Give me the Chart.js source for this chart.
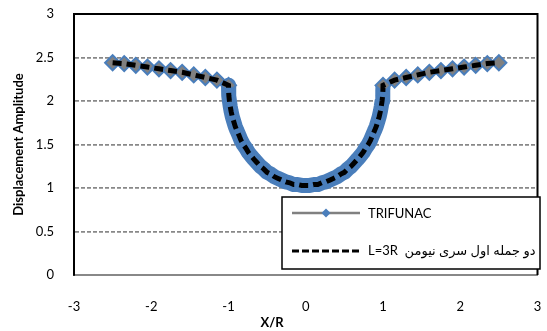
<!DOCTYPE html>
<html>
<head>
<meta charset="utf-8">
<script src="https://cdn.jsdelivr.net/npm/chart.js"></script>
<style>
  html, body { margin: 0; padding: 0; background: #fff; }
</style>
</head>
<body>
<canvas id="myChart" width="547" height="331"></canvas>
<script>
var xTicks = [-3, -2, -1, 0, 1, 2, 3];
var yTicks = [0, 0.5, 1, 1.5, 2, 2.5, 3];
var seriesNames = ["TRIFUNAC", "L=3R  دو جمله اول سری نیومن"];

// X/R positions
var xValues = [
  -2.5, -2.35, -2.2, -2.05, -1.9, -1.75, -1.6, -1.45, -1.3, -1.15,
  -1, -0.999, -0.995, -0.988, -0.978, -0.966, -0.951, -0.934, -0.914, -0.891,
  -0.866, -0.839, -0.809, -0.777, -0.743, -0.707, -0.669, -0.629, -0.588, -0.545,
  -0.5, -0.454, -0.407, -0.358, -0.309, -0.259, -0.208, -0.156, -0.105, -0.052,
  0,
  0.052, 0.105, 0.156, 0.208, 0.259, 0.309, 0.358, 0.407, 0.454, 0.5,
  0.545, 0.588, 0.629, 0.669, 0.707, 0.743, 0.777, 0.809, 0.839, 0.866,
  0.891, 0.914, 0.934, 0.951, 0.966, 0.978, 0.988, 0.995, 0.999, 1,
  1.15, 1.3, 1.45, 1.6, 1.75, 1.9, 2.05, 2.2, 2.35, 2.5
];

var trifunacValues = [
  2.44, 2.43, 2.41, 2.39, 2.37, 2.35, 2.33, 2.30, 2.27, 2.24,
  2.18, 2.12, 2.06, 2.00, 1.94, 1.88, 1.82, 1.77, 1.71, 1.66,
  1.61, 1.55, 1.50, 1.46, 1.41, 1.37, 1.33, 1.29, 1.25, 1.22,
  1.18, 1.16, 1.13, 1.11, 1.09, 1.07, 1.06, 1.04, 1.04, 1.03,
  1.03,
  1.03, 1.04, 1.04, 1.06, 1.07, 1.09, 1.11, 1.13, 1.16, 1.18,
  1.22, 1.25, 1.29, 1.33, 1.37, 1.41, 1.46, 1.50, 1.55, 1.61,
  1.66, 1.71, 1.77, 1.82, 1.88, 1.94, 2.00, 2.06, 2.12, 2.18,
  2.24, 2.27, 2.30, 2.33, 2.35, 2.37, 2.39, 2.41, 2.43, 2.44
];

var neumannValues = [
  2.44, 2.43, 2.41, 2.39, 2.37, 2.35, 2.33, 2.30, 2.27, 2.24,
  2.18, 2.12, 2.06, 2.00, 1.94, 1.88, 1.82, 1.77, 1.71, 1.66,
  1.61, 1.55, 1.50, 1.46, 1.41, 1.37, 1.33, 1.29, 1.25, 1.22,
  1.18, 1.16, 1.13, 1.11, 1.09, 1.07, 1.06, 1.04, 1.04, 1.03,
  1.03,
  1.03, 1.04, 1.04, 1.06, 1.07, 1.09, 1.11, 1.13, 1.16, 1.18,
  1.22, 1.25, 1.29, 1.33, 1.37, 1.41, 1.46, 1.50, 1.55, 1.61,
  1.66, 1.71, 1.77, 1.82, 1.88, 1.94, 2.00, 2.06, 2.12, 2.18,
  2.24, 2.27, 2.30, 2.33, 2.35, 2.37, 2.39, 2.41, 2.43, 2.44
];

var blue = "#4a7ebb";
var grey = "#808080";
var gridGrey = "#888888";

Chart.defaults.font.family = "Lato, 'DejaVu Sans', sans-serif";
Chart.defaults.font.size = 13;
Chart.defaults.color = "#000";

function toPoints(xs, ys) {
  return xs.map((x, i) => ({ x: x, y: ys[i] }));
}

function inCanyon(c) {
  return c.p0.parsed.x >= -1 && c.p1.parsed.x <= 1;
}

// legend box, frame and x title, drawn like the excel sheet
const extras = {
  id: "extras",
  afterDraw(chart) {
    const ctx = chart.ctx;
    const area = chart.chartArea;
    ctx.save();

    // plot frame top + right
    ctx.strokeStyle = "#000";
    ctx.lineWidth = 2;
    ctx.beginPath();
    ctx.moveTo(area.left, area.top);
    ctx.lineTo(area.right, area.top);
    ctx.lineTo(area.right, area.bottom);
    ctx.stroke();

    // legend
    ctx.fillStyle = "#fff";
    ctx.fillRect(282, 197, 258, 72);
    ctx.lineWidth = 1.5;
    ctx.strokeStyle = "#000";
    ctx.strokeRect(282, 197, 258, 72);

    ctx.strokeStyle = grey;
    ctx.lineWidth = 2.5;
    ctx.beginPath();
    ctx.moveTo(292, 213);
    ctx.lineTo(360, 213);
    ctx.stroke();
    ctx.fillStyle = blue;
    ctx.beginPath();
    ctx.moveTo(326, 208.5);
    ctx.lineTo(330.5, 213);
    ctx.lineTo(326, 217.5);
    ctx.lineTo(321.5, 213);
    ctx.closePath();
    ctx.fill();

    ctx.strokeStyle = "#000";
    ctx.lineWidth = 3;
    ctx.setLineDash([7, 3]);
    ctx.beginPath();
    ctx.moveTo(292, 251);
    ctx.lineTo(361, 251);
    ctx.stroke();
    ctx.setLineDash([]);

    ctx.fillStyle = "#000";
    ctx.font = "13px Lato, 'DejaVu Sans', sans-serif";
    ctx.textBaseline = "middle";
    ctx.textAlign = "left";
    ctx.fillText(seriesNames[0], 368, 214);
    ctx.fillText(seriesNames[1], 368, 251);

    // x title
    ctx.font = "bold 13px Lato, 'DejaVu Sans', sans-serif";
    ctx.textAlign = "center";
    ctx.fillText("X/R", 272, 323);
    ctx.restore();
  }
};

new Chart("myChart", {
  type: "line",
  data: {
    datasets: [{
      label: seriesNames[0],
      data: toPoints(xValues, trifunacValues),
      borderColor: grey,
      borderWidth: 2.5,
      borderJoinStyle: "round",
      // inside the canyon the markers are so dense they read as one thick blue band
      segment: {
        borderColor: (c) => inCanyon(c) ? blue : grey,
        borderWidth: (c) => inCanyon(c) ? 15 : 2.5
      },
      pointStyle: "rectRot",
      pointRadius: (c) => (c.raw && Math.abs(c.raw.x) < 1 ? 5.5 : 7.5),
      pointBorderWidth: 2,
      pointBorderColor: blue,
      pointBackgroundColor: (c) => (c.raw && Math.abs(c.raw.x) < 1 ? blue : grey),
      tension: 0,
      order: 2
    }, {
      label: seriesNames[1],
      data: toPoints(xValues, neumannValues),
      borderColor: "#000",
      borderWidth: 5,
      borderDash: [9, 5],
      pointRadius: 0,
      tension: 0,
      order: 1
    }]
  },
  options: {
    responsive: false,
    animation: false,
    layout: { padding: { top: 14, right: 4, left: 0, bottom: 0 } },
    plugins: {
      legend: { display: false },
      tooltip: { enabled: false }
    },
    scales: {
      x: {
        type: "linear",
        min: xTicks[0],
        max: xTicks[xTicks.length - 1],
        afterBuildTicks: (scale) => { scale.ticks = xTicks.map(v => ({ value: v })); },
        afterFit: (scale) => { scale.height = 56; },
        grid: { display: false, drawTicks: true, tickLength: 24 },
        border: { display: true, color: gridGrey, width: 2 },
        ticks: { padding: 0, color: "#000", maxRotation: 0, callback: (v) => String(v) }
      },
      y: {
        type: "linear",
        min: yTicks[0],
        max: yTicks[yTicks.length - 1],
        afterBuildTicks: (scale) => { scale.ticks = yTicks.map(v => ({ value: v })); },
        afterFit: (scale) => { scale.width = 74; },
        grid: {
          drawTicks: true,
          tickLength: 20,
          tickColor: "rgba(0,0,0,0)",
          lineWidth: 1.75,
          color: (c) => (c.tick && (c.tick.value === 0 || c.tick.value === 3)) ? "rgba(0,0,0,0)" : gridGrey
        },
        border: { display: true, color: "#000", width: 2, dash: [4, 2] },
        ticks: { padding: 0, color: "#000", callback: (v) => String(v) },
        title: {
          display: true,
          text: "Displacement Amplitude",
          font: { weight: "bold", size: 13 },
          padding: { top: 11, bottom: 0 }
        }
      }
    }
  },
  plugins: [extras]
});
</script>
</body>
</html>
